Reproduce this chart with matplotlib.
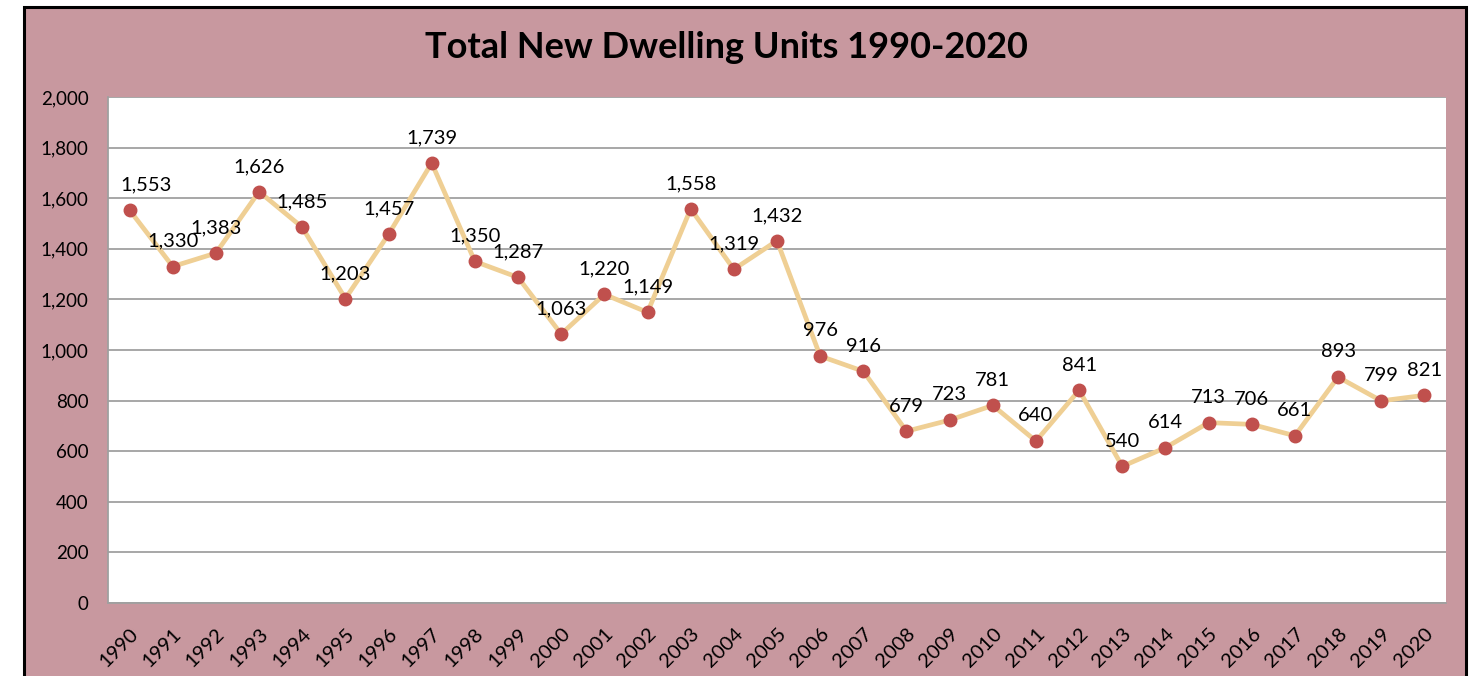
import matplotlib.pyplot as plt
from matplotlib.patches import Rectangle
from matplotlib.ticker import FuncFormatter

# dane z wykresu
lata = [str(r) for r in range(1990, 2021)]
mieszkania = [1553, 1330, 1383, 1626, 1485, 1203, 1457, 1739, 1350, 1287,
              1063, 1220, 1149, 1558, 1319, 1432, 976, 916, 679, 723,
              781, 640, 841, 540, 614, 713, 706, 661, 893, 799, 821]

plt.rcParams['font.family'] = ['Lato', 'DejaVu Sans']

fig = plt.figure(figsize=(14.8, 6.76), dpi=100, facecolor='white')
# rozowe tlo z czarna ramka
tlo = Rectangle((24 / 1480, -0.05), (1466 - 24) / 1480, 1.05 - 7 / 676,
                transform=fig.transFigure, facecolor='#C8989F',
                edgecolor='black', linewidth=2.2, zorder=-5)
fig.patches.append(tlo)

ax = fig.add_axes([108 / 1480, 1 - 603 / 676, (1446 - 108) / 1480, (603 - 97) / 676])
ax.set_facecolor('white')

x = range(len(lata))
ax.plot(x, mieszkania, color='#EFCF94', linewidth=3.4, zorder=3)
ax.plot(x, mieszkania, linestyle='none', marker='o', markersize=9,
        color='#C0504D', zorder=4)

for xi, v in zip(x, mieszkania):
    dx = 12 if xi == 0 else 0
    ax.annotate(f'{v:,}', (xi, v), xytext=(dx, 12), textcoords='offset points',
                ha='center', va='bottom', fontsize=14.5, color='black')

ax.set_xlim(-0.5, len(lata) - 0.5)
ax.set_ylim(0, 2000)
ax.set_yticks(range(0, 2001, 200))
ax.yaxis.set_major_formatter(FuncFormatter(lambda v, p: f'{int(v):,}'))
ax.set_xticks(list(x))
ax.set_xticklabels(lata, rotation=45, ha='right', rotation_mode='anchor')
ax.tick_params(axis='y', length=0, labelsize=13.5, pad=14)
ax.tick_params(axis='x', length=0, labelsize=14.5, pad=16)
ax.grid(axis='y', color='#A0A0A0', linewidth=1.3)
ax.set_axisbelow(True)

for s in ['top', 'right']:
    ax.spines[s].set_visible(False)
for s in ['left', 'bottom']:
    ax.spines[s].set_color('#A0A0A0')
    ax.spines[s].set_linewidth(1.3)

fig.text(0.491, 1 - 47 / 676, 'Total New Dwelling Units 1990-2020',
         ha='center', va='center', fontsize=26, fontweight='bold')

fig.savefig('out.png', dpi=100, facecolor=fig.get_facecolor())
